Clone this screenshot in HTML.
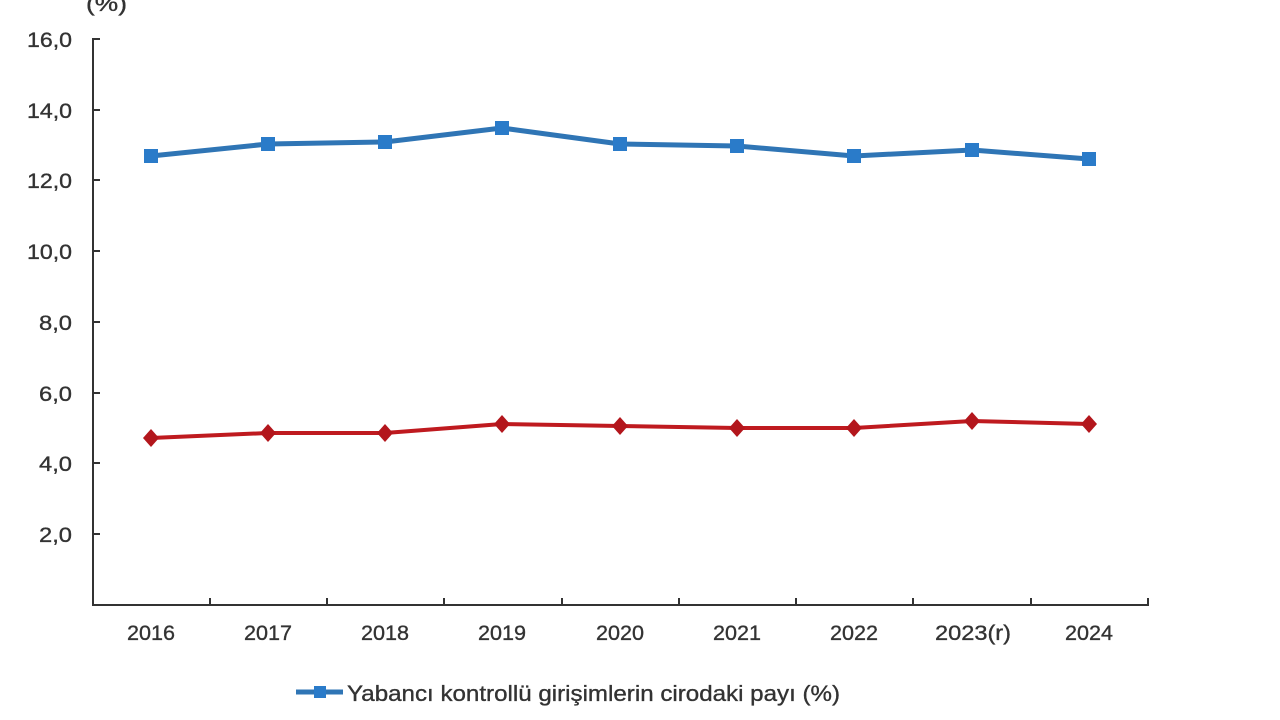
<!DOCTYPE html>
<html>
<head>
<meta charset="utf-8">
<style>
html,body{margin:0;padding:0;background:#fff;}
svg{display:block;}
text{font-family:"Liberation Sans",Arial,sans-serif;fill:#333;stroke:#333;stroke-width:0.35;}
</style>
</head>
<body>
<svg width="1280" height="720" viewBox="0 0 1280 720" xmlns="http://www.w3.org/2000/svg">
<rect width="1280" height="720" fill="#fff"/>
<!-- (%) label -->
<text x="86" y="11" font-size="21" textLength="41" lengthAdjust="spacingAndGlyphs">(%)</text>
<!-- axes -->
<g stroke="#333" stroke-width="2" fill="none">
<line x1="93" y1="38" x2="93" y2="606"/>
<line x1="92" y1="605" x2="1149" y2="605"/>
<!-- y ticks -->
<line x1="93" y1="39" x2="100" y2="39"/>
<line x1="93" y1="110" x2="100" y2="110"/>
<line x1="93" y1="180" x2="100" y2="180"/>
<line x1="93" y1="251" x2="100" y2="251"/>
<line x1="93" y1="322" x2="100" y2="322"/>
<line x1="93" y1="393" x2="100" y2="393"/>
<line x1="93" y1="463" x2="100" y2="463"/>
<line x1="93" y1="534" x2="100" y2="534"/>
<!-- x ticks -->
<line x1="210" y1="605" x2="210" y2="598"/>
<line x1="327" y1="605" x2="327" y2="598"/>
<line x1="444" y1="605" x2="444" y2="598"/>
<line x1="562" y1="605" x2="562" y2="598"/>
<line x1="679" y1="605" x2="679" y2="598"/>
<line x1="796" y1="605" x2="796" y2="598"/>
<line x1="913" y1="605" x2="913" y2="598"/>
<line x1="1031" y1="605" x2="1031" y2="598"/>
<line x1="1148" y1="605" x2="1148" y2="598"/>
</g>
<!-- y labels -->
<g font-size="21">
<text x="27" y="47" textLength="45" lengthAdjust="spacingAndGlyphs">16,0</text>
<text x="27" y="118" textLength="45" lengthAdjust="spacingAndGlyphs">14,0</text>
<text x="27" y="188" textLength="45" lengthAdjust="spacingAndGlyphs">12,0</text>
<text x="27" y="259" textLength="45" lengthAdjust="spacingAndGlyphs">10,0</text>
<text x="39" y="330" textLength="33" lengthAdjust="spacingAndGlyphs">8,0</text>
<text x="39" y="401" textLength="33" lengthAdjust="spacingAndGlyphs">6,0</text>
<text x="39" y="471" textLength="33" lengthAdjust="spacingAndGlyphs">4,0</text>
<text x="39" y="542" textLength="33" lengthAdjust="spacingAndGlyphs">2,0</text>
</g>
<!-- x labels -->
<g font-size="21">
<text x="127" y="640" textLength="48" lengthAdjust="spacingAndGlyphs">2016</text>
<text x="244" y="640" textLength="48" lengthAdjust="spacingAndGlyphs">2017</text>
<text x="361" y="640" textLength="48" lengthAdjust="spacingAndGlyphs">2018</text>
<text x="478" y="640" textLength="48" lengthAdjust="spacingAndGlyphs">2019</text>
<text x="596" y="640" textLength="48" lengthAdjust="spacingAndGlyphs">2020</text>
<text x="713" y="640" textLength="48" lengthAdjust="spacingAndGlyphs">2021</text>
<text x="830" y="640" textLength="48" lengthAdjust="spacingAndGlyphs">2022</text>
<text x="935" y="640" textLength="76" lengthAdjust="spacingAndGlyphs">2023(r)</text>
<text x="1065" y="640" textLength="48" lengthAdjust="spacingAndGlyphs">2024</text>
</g>
<!-- blue series -->
<polyline fill="none" stroke="#2f75b5" stroke-width="5" stroke-linejoin="round"
 points="151,156 268,144 385,142 502,128 620,144 737,146 854,156 972,150 1089,159"/>
<g fill="#2a7bc9">
<rect x="144" y="149" width="14" height="14"/>
<rect x="261" y="137" width="14" height="14"/>
<rect x="378" y="135" width="14" height="14"/>
<rect x="495" y="121" width="14" height="14"/>
<rect x="613" y="137" width="14" height="14"/>
<rect x="730" y="139" width="14" height="14"/>
<rect x="847" y="149" width="14" height="14"/>
<rect x="965" y="143" width="14" height="14"/>
<rect x="1082" y="152" width="14" height="14"/>
</g>
<!-- red series -->
<polyline fill="none" stroke="#bf1a1f" stroke-width="4" stroke-linejoin="round"
 points="151,438 268,433 385,433 502,424 620,426 737,428 854,428 972,421 1089,424"/>
<g fill="#b3161c">
<polygon points="151,429 159,438 151,447 143,438"/>
<polygon points="268,424 276,433 268,442 260,433"/>
<polygon points="385,424 393,433 385,442 377,433"/>
<polygon points="502,415 510,424 502,433 494,424"/>
<polygon points="620,417 628,426 620,435 612,426"/>
<polygon points="737,419 745,428 737,437 729,428"/>
<polygon points="854,419 862,428 854,437 846,428"/>
<polygon points="972,412 980,421 972,430 964,421"/>
<polygon points="1089,415 1097,424 1089,433 1081,424"/>
</g>
<!-- legend -->
<line x1="296" y1="692" x2="343" y2="692" stroke="#2f75b5" stroke-width="5"/>
<rect x="314" y="686" width="12" height="12" fill="#2a7bc9"/>
<text x="347" y="701" font-size="22" textLength="493" lengthAdjust="spacingAndGlyphs">Yabancı kontrollü girişimlerin cirodaki payı (%)</text>
</svg>
</body>
</html>
